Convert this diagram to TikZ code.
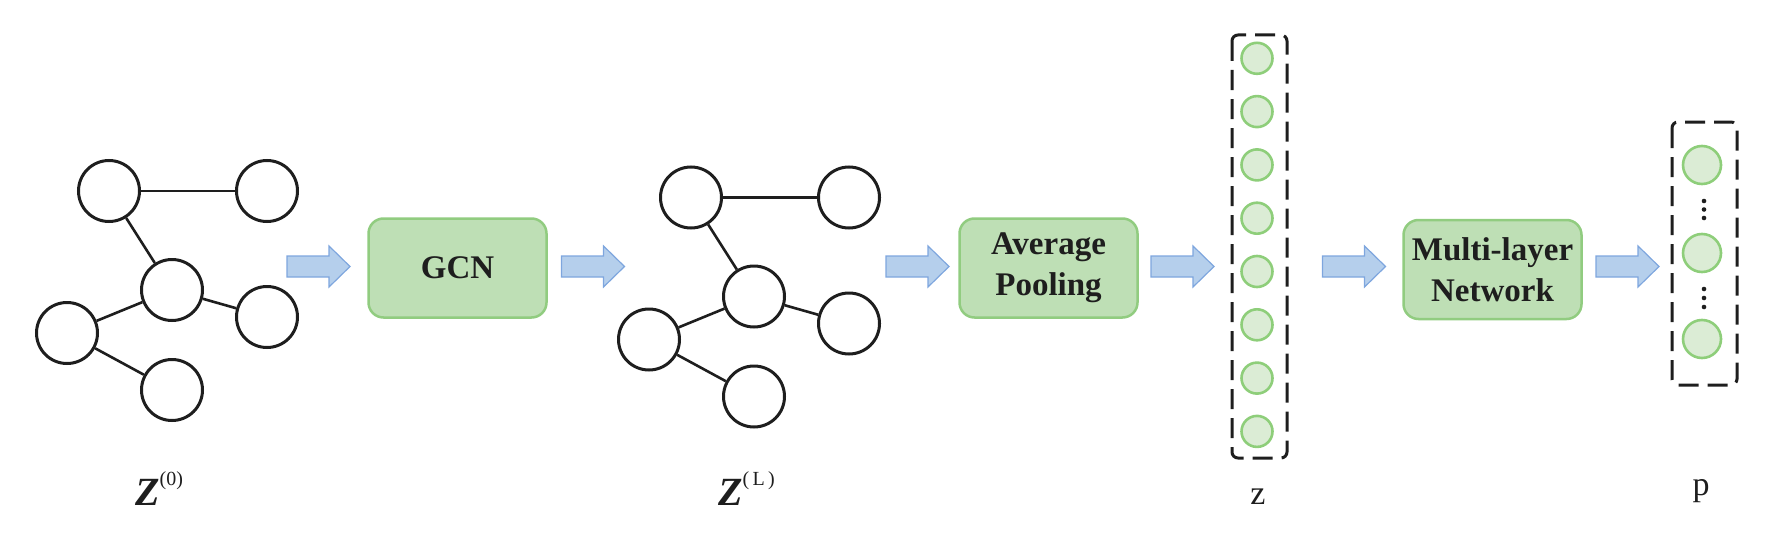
\documentclass[tikz,border=0pt]{standalone}
\usepackage{fontspec}
\setmainfont{Liberation Serif}
\definecolor{boxfill}{RGB}{190,223,181}
\definecolor{boxline}{RGB}{145,204,128}
\definecolor{cfill}{RGB}{219,236,213}
\definecolor{cline}{RGB}{142,206,122}
\definecolor{afill}{RGB}{181,207,236}
\definecolor{aline}{RGB}{126,166,222}
\definecolor{ink}{RGB}{30,30,30}
\tikzset{
  gnode/.style={circle, draw=ink, line width=3pt, minimum size=61pt, inner sep=0pt},
  gedge/.style={draw=ink, line width=2.6pt},
  procbox/.style={rounded corners=15pt, draw=boxline, fill=boxfill, line width=2.5pt,
    minimum width=178pt, minimum height=99pt, inner sep=0pt, align=center,
    font=\fontsize{33}{41}\selectfont\bfseries, text=ink},
  vecbox/.style={draw=ink, line width=3pt, rounded corners=6pt, dash pattern=on 20pt off 9pt},
  vcirc/.style={circle, draw=cline, fill=cfill, line width=2.6pt, inner sep=0pt},
  lbl/.style={anchor=base west, inner sep=0pt, text=ink, font=\fontsize{34}{34}\selectfont},
  barrowstyle/.style={draw=aline, fill=afill, line width=1.2pt, line join=miter},
  pics/barrow/.style={code={
    \draw[barrowstyle] (0,-10.5) -- (42,-10.5) -- (42,-20.5) -- (63,0) -- (42,20.5) -- (42,10.5) -- (0,10.5) -- cycle;}}
}
\newcommand\bigZ{{\fontsize{40}{40}\selectfont\bfseries\itshape Z}}
\newcommand\supsc[1]{\raisebox{20pt}{\fontsize{20}{20}\selectfont #1}}
\begin{document}
\begin{tikzpicture}[x=1pt, y=-1pt]
\useasboundingbox (0,0) rectangle (1772,543);

% graph 1
\node[gnode] (a1) at (109,191) {};
\node[gnode] (b1) at (267,191) {};
\node[gnode] (c1) at (172,290) {};
\node[gnode] (d1) at (267,317) {};
\node[gnode] (e1) at (67,333) {};
\node[gnode] (f1) at (172,390) {};
\draw[gedge] (a1) -- (b1);
\draw[gedge] (a1) -- (c1);
\draw[gedge] (c1) -- (e1);
\draw[gedge] (c1) -- (d1);
\draw[gedge] (e1) -- (f1);

% graph 2
\node[gnode] (a2) at (691,197.5) {};
\node[gnode] (b2) at (849,197.5) {};
\node[gnode] (c2) at (754,296.5) {};
\node[gnode] (d2) at (849,323.5) {};
\node[gnode] (e2) at (649,339.5) {};
\node[gnode] (f2) at (754,396.5) {};
\draw[gedge] (a2) -- (b2);
\draw[gedge] (a2) -- (c2);
\draw[gedge] (c2) -- (e2);
\draw[gedge] (c2) -- (d2);
\draw[gedge] (e2) -- (f2);

% boxes
\node[procbox] (gcn) at (457.5,268) {GCN};
\node[procbox] (pool) at (1048.5,268) {Average\\Pooling};
\node[procbox] (mlp) at (1492.5,269.5) {Multi-layer\\Network};

% block arrows
\pic at (287,266.5) {barrow};
\pic at (561.5,266.5) {barrow};
\pic at (886,266.5) {barrow};
\pic at (1151,266.5) {barrow};
\pic at (1322.5,266.5) {barrow};
\pic at (1596,266.5) {barrow};

% vector z
\draw[vecbox] (1232,35) rectangle (1287,458);
\foreach \i in {0,...,7} {
  \node[vcirc, minimum size=31pt] (z\i) at (1257,58.3+53.3*\i) {};
}

% vector p
\draw[vecbox] (1672,122) rectangle (1737,385);
\node[vcirc, minimum size=38pt] (p0) at (1702,165) {};
\node[vcirc, minimum size=38pt] (p1) at (1702,253) {};
\node[vcirc, minimum size=38pt] (p2) at (1702,339) {};
\foreach \y in {201,209.5,218,289,298,307} {
  \fill[ink] (1704,\y) circle (2.3pt);
}

% labels
\node[lbl] (l0) at (135,505) {\bigZ\supsc{(0)}};
\node[lbl] (l1) at (718,505) {\bigZ\supsc{(\,L\,)}};
\node[lbl, anchor=base] (lz) at (1258,504) {z};
\node[lbl, anchor=base] (lp) at (1701,495) {p};
\end{tikzpicture}
\end{document}
